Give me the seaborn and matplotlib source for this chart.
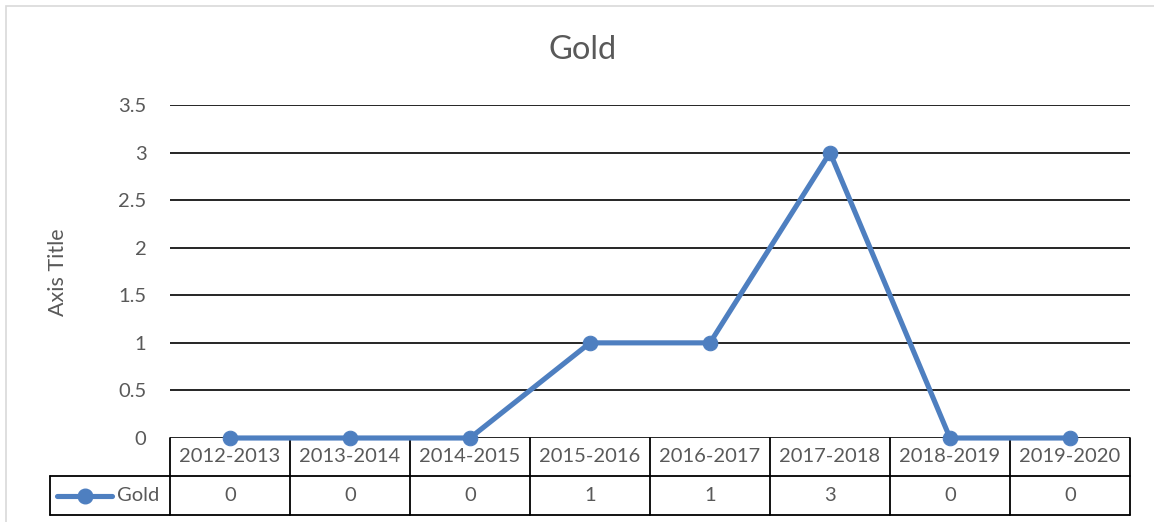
import matplotlib
matplotlib.use("Agg")
import matplotlib.pyplot as plt
from matplotlib.patches import Rectangle
from matplotlib.lines import Line2D
import seaborn as sns
import pandas as pd

seasons = ["2012-2013", "2013-2014", "2014-2015", "2015-2016",
           "2016-2017", "2017-2018", "2018-2019", "2019-2020"]
gold = [0, 0, 0, 1, 1, 3, 0, 0]
series_name = "Gold"
y_ticks = [0, 0.5, 1, 1.5, 2, 2.5, 3, 3.5]

sns.set_theme(style="white")
plt.rcParams["font.family"] = ["Lato", "DejaVu Sans"]

W, H = 1154, 522
fig = plt.figure(figsize=(W / 100, H / 100), dpi=100)
fig.patch.set_facecolor("white")

# plot area in pixel terms
px_left, px_right, px_top, px_bottom = 170, 1130, 105, 438
ax = fig.add_axes([px_left / W, 1 - px_bottom / H,
                   (px_right - px_left) / W, (px_bottom - px_top) / H])
ax.set_facecolor("white")

LINE_COLOR = "#4E7FC0"
TEXT_COLOR = "#595959"
FS = 14.5

df = pd.DataFrame({"season": seasons, "value": gold})
sns.lineplot(data=df, x="season", y="value", ax=ax, color=LINE_COLOR,
             linewidth=3.7, marker="o", markersize=10.5,
             markeredgecolor=LINE_COLOR, markerfacecolor=LINE_COLOR,
             zorder=5, clip_on=False)

ax.set_xlim(-0.5, len(seasons) - 0.5)
ax.set_ylim(0, 3.5)
ax.set_yticks(y_ticks)
ax.set_yticklabels([f"{t:g}" for t in y_ticks])
ax.tick_params(axis="y", length=0, pad=17, labelsize=FS, labelcolor=TEXT_COLOR)
ax.set_xticks([])
ax.set_xlabel("")
ax.set_ylabel("")
for s in ax.spines.values():
    s.set_visible(False)

# horizontal gridlines
for t in y_ticks:
    ax.axhline(t, color="black", linewidth=1.2, zorder=1)

# data table under the plot area
tr = ax.get_xaxis_transform()
axes_h = px_bottom - px_top
row1 = -38 / axes_h
row2 = -77 / axes_h
n = len(seasons)
lkw = dict(color="black", linewidth=1.3, transform=tr, clip_on=False, zorder=3)
for i in range(n + 1):
    ax.add_line(Line2D([i - 0.5, i - 0.5], [0, row2], **lkw))
ax.add_line(Line2D([-1.5, -1.5], [row1, row2], **lkw))
ax.add_line(Line2D([-1.5, n - 0.5], [row1, row1], **lkw))
ax.add_line(Line2D([-1.5, n - 0.5], [row2, row2], **lkw))

for i, (s, v) in enumerate(zip(seasons, gold)):
    ax.text(i, row1 / 2, s, transform=tr, ha="center", va="center",
            fontsize=FS, color=TEXT_COLOR)
    ax.text(i, (row1 + row2) / 2, f"{v:g}", transform=tr, ha="center",
            va="center", fontsize=FS, color=TEXT_COLOR)

# legend key inside the row header cell
ly = (row1 + row2) / 2
ax.add_line(Line2D([-1.44, -0.985], [ly, ly], color=LINE_COLOR, linewidth=3.7,
                   transform=tr, clip_on=False, solid_capstyle="round"))
ax.add_line(Line2D([-1.21], [ly], color=LINE_COLOR, marker="o", markersize=10.5,
                   transform=tr, clip_on=False))
ax.text(-0.945, ly, series_name, transform=tr, ha="left", va="center",
        fontsize=FS, color=TEXT_COLOR)

# titles
fig.text(583 / W, 1 - 50 / H, series_name, ha="center", va="center",
         fontsize=23.5, color=TEXT_COLOR)
fig.text(58 / W, 1 - 272 / H, "Axis Title", rotation=90, ha="center",
         va="center", fontsize=15.5, color=TEXT_COLOR)

# chart area border
fig.add_artist(Rectangle((6 / W, -0.1), 1.2, 1 - 6 / H + 0.1,
                         transform=fig.transFigure, fill=False,
                         edgecolor="#D9D9D9", linewidth=1.2))

fig.savefig("out.png", dpi=100, facecolor="white")
